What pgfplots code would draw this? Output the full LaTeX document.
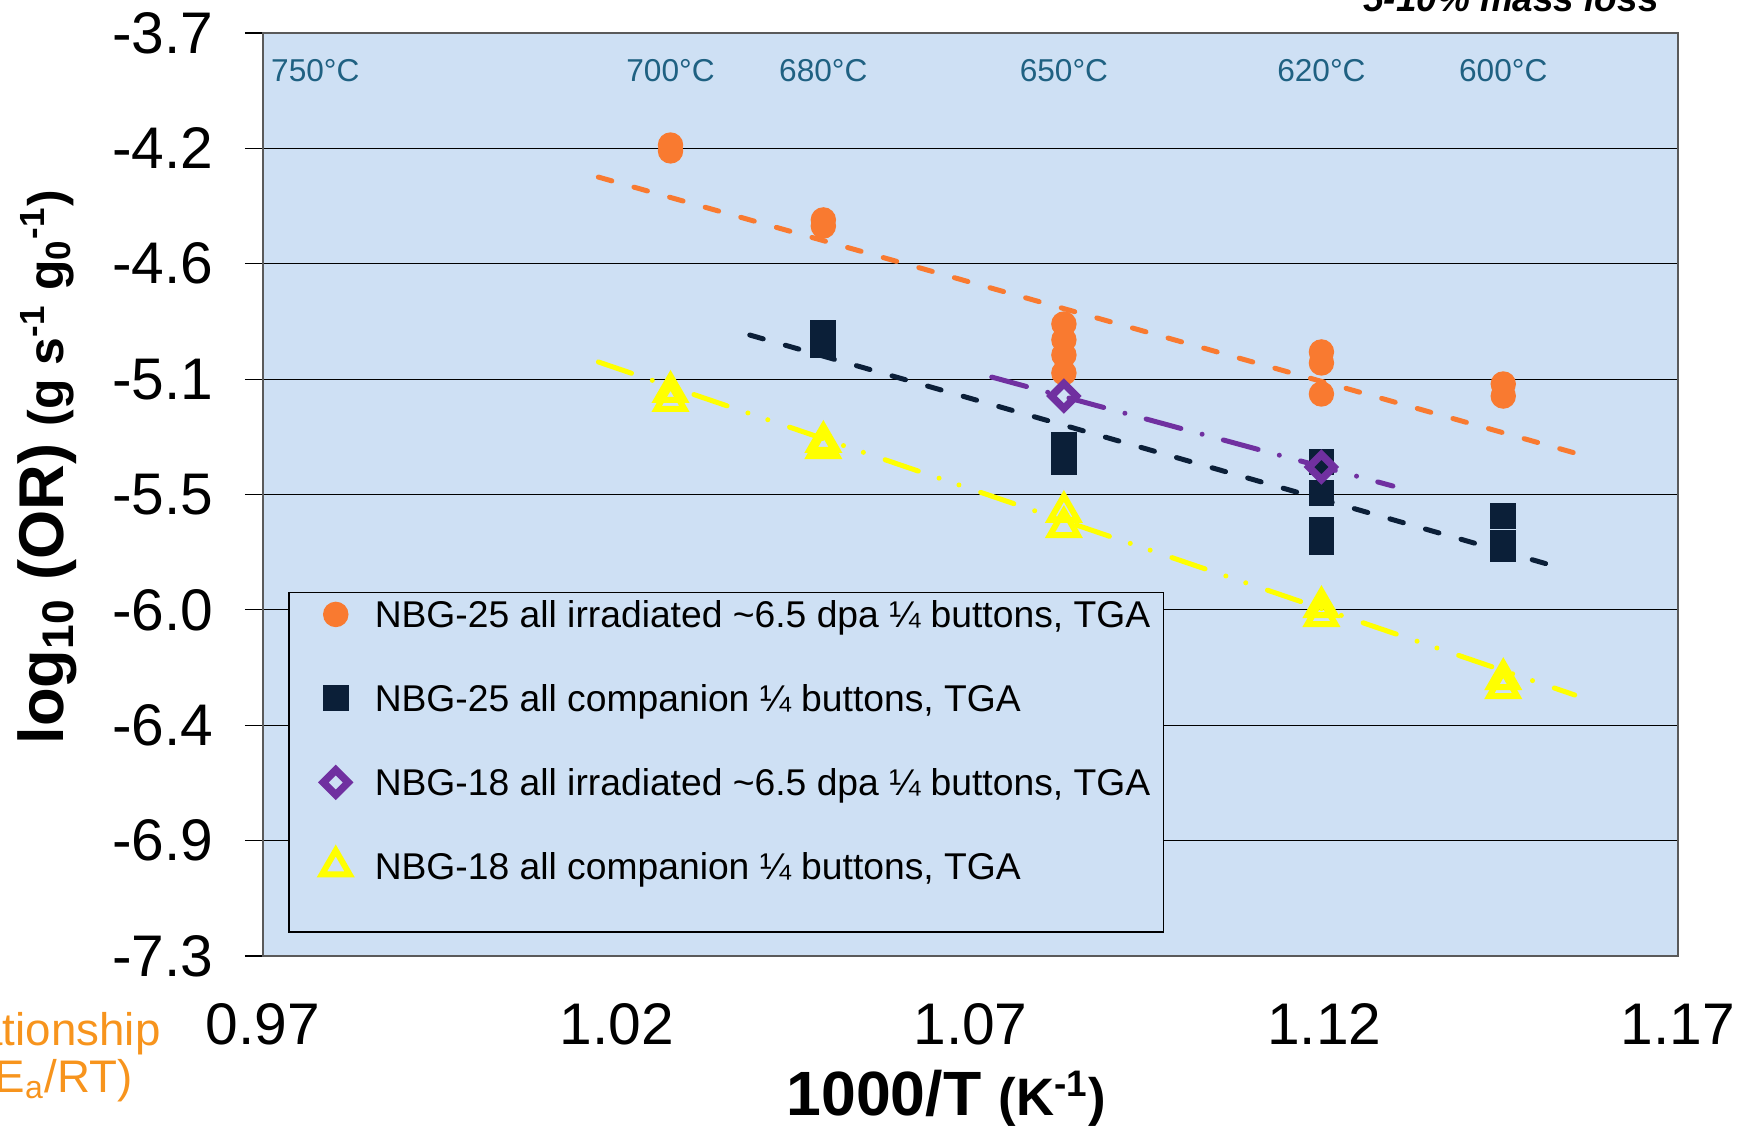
\documentclass[border=0pt]{standalone}
\usepackage{fontspec}
\setmainfont{Liberation Sans}
\usepackage{pgfplots}
\pgfplotsset{compat=1.18}
\definecolor{bgblue}{RGB}{206,224,244}
\definecolor{orangeD}{RGB}{249,122,48}
\definecolor{navyD}{RGB}{11,31,56}
\definecolor{purpleD}{RGB}{112,48,160}
\definecolor{yellowD}{RGB}{255,255,0}
\definecolor{tealT}{RGB}{31,97,130}
\definecolor{orangeT}{RGB}{247,148,29}
\definecolor{frameG}{RGB}{90,90,90}
\newcommand\ls{\rule[-0.84mm]{0pt}{4.34mm}}
\begin{document}
\begin{tikzpicture}
\useasboundingbox (-26.3mm,-17.9mm) rectangle (148.4mm,95.6mm);
\clip (-26.3mm,-17.9mm) rectangle (148.4mm,95.6mm);
\begin{axis}[
  at={(0,0)}, anchor=south west,
  scale only axis, width=141.5mm, height=92.3mm,
  xmin=0.97, xmax=1.17, ymin=-7.3, ymax=-3.7,
  axis background/.style={fill=bgblue},
  axis line style={draw=frameG, line width=0.2mm},
  xtick={0.97,1.02,1.07,1.12,1.17},
  xticklabels={0.97,1.02,1.07,1.12,1.17},
  ytick={-7.3,-6.85,-6.4,-5.95,-5.5,-5.05,-4.6,-4.15,-3.7},
  yticklabels={-7.3,-6.9,-6.4,-6.0,-5.5,-5.1,-4.6,-4.2,-3.7},
  ymajorgrids, major grid style={black, line width=0.12mm},
  tick align=outside, major tick length=1.8mm, tick pos=left,
  ytick style={black, line width=0.12mm},
  xtick style={draw=none},
  tick label style={font=\fontsize{16.7}{20}\selectfont},
  yticklabel style={inner sep=0pt, xshift=-3.1mm},
  xticklabel style={inner sep=0pt, yshift=-2.9mm},
  xlabel={\bfseries 1000/T {\fontsize{15}{17}\selectfont (K\textsuperscript{-1})}},
  xlabel style={font=\fontsize{17.8}{21}\selectfont, at={(axis description cs:0.483,-0.1723)}, anchor=base},
  ylabel={\bfseries log\textsubscript{10} (OR) {\fontsize{14.2}{17}\selectfont (g s\textsuperscript{-1} g\textsubscript{0}\textsuperscript{-1})}},
  ylabel style={font=\fontsize{18}{21}\selectfont, at={(axis description cs:-0.1413,0.5298)}, anchor=base},
  legend style={at={(rel axis cs:0.01767,0.3944)}, anchor=north west, draw=black, line width=0.15mm, fill=bgblue,
    inner xsep=1.3mm, inner ysep=0pt, row sep=4.06mm, column sep=0.9mm, font=\fontsize{10.6}{12}\selectfont,
    nodes={inner sep=0pt, text depth=}},
  legend cell align=left,
  legend image code/.code={\pgfpathrectangle{\pgfpoint{0mm}{-1.5mm}}{\pgfpoint{6.4mm}{3mm}}\pgfusepath{use as bounding box}%
    \draw[mark repeat=2,mark phase=2,#1] plot coordinates {(0mm,0mm) (3.4mm,0mm) (6.4mm,0mm)};},
]
% NBG-25 irradiated
\addplot[only marks, mark=*, mark size=1.2mm, color=orangeD] coordinates {
 (1.0276,-4.137) (1.0276,-4.160)
 (1.0492,-4.429) (1.0492,-4.453)
 (1.0832,-4.835) (1.0832,-4.897) (1.0832,-4.956) (1.0832,-5.026)
 (1.1196,-4.944) (1.1196,-4.987) (1.1196,-5.108)
 (1.1453,-5.069) (1.1453,-5.116)
};
\addlegendentry{\ls NBG-25 all irradiated \textasciitilde6.5 dpa ¼ buttons, TGA}
% NBG-25 companion
\addplot[only marks, mark=square*, mark size=1.22mm, color=navyD] coordinates {
 (1.0492,-4.868) (1.0492,-4.919)
 (1.0832,-5.305) (1.0832,-5.375)
 (1.1196,-5.373) (1.1196,-5.494) (1.1196,-5.638) (1.1196,-5.685)
 (1.1453,-5.584) (1.1453,-5.689) (1.1453,-5.713)
};
\addlegendentry{\ls NBG-25 all companion ¼ buttons, TGA}
% NBG-18 irradiated
\addplot[only marks, mark=square, mark size=0.88mm, color=purpleD, line width=0.75mm, mark options={rotate=45, line width=0.75mm}] coordinates {
 (1.0832,-5.116) (1.1196,-5.393)
};
\addlegendentry{\ls NBG-18 all irradiated \textasciitilde6.5 dpa ¼ buttons, TGA}
% NBG-18 companion
\addplot[only marks, mark=triangle, mark size=1.6mm, color=yellowD, line width=0.6mm, mark options={line width=0.6mm}] coordinates {
 (1.0276,-5.100) (1.0276,-5.135)
 (1.0492,-5.295) (1.0492,-5.319)
 (1.0832,-5.568) (1.0832,-5.627)
 (1.1196,-5.939) (1.1196,-5.974)
 (1.1453,-6.220) (1.1453,-6.255)
};
\addlegendentry{\ls NBG-18 all companion ¼ buttons, TGA}
\addlegendimage{empty legend}
\addlegendentry{}

% trend lines
\addplot[forget plot, orangeD, line width=0.5mm, line cap=round, dash pattern=on 1.4mm off 2.3mm] coordinates {(1.0174,-4.262) (1.1554,-5.338)};
\addplot[forget plot, navyD, line width=0.5mm, line cap=round, dash pattern=on 1.4mm off 2.3mm] coordinates {(1.0388,-4.878) (1.1530,-5.783)};
\addplot[forget plot, purpleD, line width=0.5mm, line cap=round, dash pattern=on 3.6mm off 2.2mm on 0mm off 2.2mm] coordinates {(1.0730,-5.042) (1.1297,-5.467)};
\addplot[forget plot, yellowD, line width=0.5mm, line cap=round, dash pattern=on 3.5mm off 2.2mm on 0mm off 2.1mm on 0mm off 2.3mm] coordinates {(1.0174,-4.983) (1.1554,-6.282)};

% temperature labels
\node[anchor=base, text=tealT, font=\fontsize{9}{10}\selectfont] at (axis cs:0.9774,-3.891) {750°C};
\node[anchor=base, text=tealT, font=\fontsize{9}{10}\selectfont] at (axis cs:1.0276,-3.891) {700°C};
\node[anchor=base, text=tealT, font=\fontsize{9}{10}\selectfont] at (axis cs:1.0492,-3.891) {680°C};
\node[anchor=base, text=tealT, font=\fontsize{9}{10}\selectfont] at (axis cs:1.0832,-3.891) {650°C};
\node[anchor=base, text=tealT, font=\fontsize{9}{10}\selectfont] at (axis cs:1.1196,-3.891) {620°C};
\node[anchor=base, text=tealT, font=\fontsize{9}{10}\selectfont] at (axis cs:1.1453,-3.891) {600°C};
\end{axis}
\node[anchor=base east, font=\bfseries\itshape\fontsize{10.5}{12}\selectfont] at (140.8mm,94.4mm) {5-10\% mass loss};
\node[anchor=base east, text=orangeT, font=\fontsize{13}{15}\selectfont] at (-9.0mm,-8.9mm) {Arrhenius relationship};
\node[anchor=base east, text=orangeT, font=\fontsize{13}{15}\selectfont] at (-11.8mm,-13.6mm) {k = A exp(-E\textsubscript{a}/RT)};
\end{tikzpicture}
\end{document}
